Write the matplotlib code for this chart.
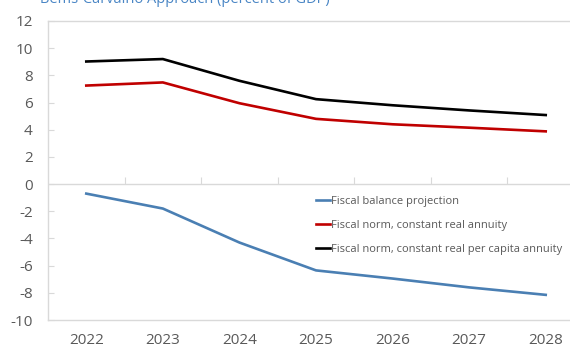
import matplotlib
matplotlib.use("Agg")
import matplotlib.pyplot as plt

years = ["2022", "2023", "2024", "2025", "2026", "2027", "2028"]
fiscal_balance = [-0.7, -1.8, -4.3, -6.35, -6.95, -7.6, -8.15]
norm_real_annuity = [7.25, 7.48, 5.95, 4.8, 4.4, 4.15, 3.88]
norm_per_capita_annuity = [9.02, 9.2, 7.6, 6.25, 5.8, 5.42, 5.08]

series_labels = [
    "Fiscal balance projection",
    "Fiscal norm, constant real annuity",
    "Fiscal norm, constant real per capita annuity",
]
series_colors = ["#4a7fb3", "#c00000", "#000000"]
title = "Bems-Carvalho Approach (percent of GDP)"

plt.rcParams["font.family"] = ["Open Sans", "DejaVu Sans"]
grey = "#d9d9d9"
text_grey = "#595959"

fig = plt.figure(figsize=(5.70, 3.48), dpi=100)
W, H = 570, 348
left, right, top, bottom = 48, 584, 21, 320
ax = fig.add_axes([left / W, 1 - bottom / H, (right - left) / W, (bottom - top) / H])

x = list(range(len(years)))
for vals, lab, col in zip([fiscal_balance, norm_real_annuity, norm_per_capita_annuity],
                          series_labels, series_colors):
    ax.plot(x, vals, color=col, lw=1.9, label=lab, solid_joinstyle="round")

ax.set_xlim(-0.5, len(years) - 0.5)
ax.set_ylim(-10, 12)
ax.set_yticks(range(-10, 13, 2))
ax.set_yticklabels([str(v) for v in range(-10, 13, 2)])
ax.set_xticks(x)
ax.set_xticklabels(years)

for s in ["left", "bottom", "top"]:
    ax.spines[s].set_color(grey)
    ax.spines[s].set_linewidth(1.0)
ax.spines["right"].set_visible(False)

ax.tick_params(axis="y", direction="in", length=4, color=grey, labelcolor=text_grey,
               labelsize=11, pad=11)
ax.tick_params(axis="x", length=0, labelcolor=text_grey, labelsize=11, pad=9)

# zero line with category-boundary ticks
ax.axhline(0, color=grey, lw=1.0, zorder=1)
zero_axis = ax.secondary_xaxis(10 / 22)
zero_axis.set_xticks([i + 0.5 for i in x[:-1]])
zero_axis.tick_params(direction="in", length=5, color=grey, labelbottom=False,
                      labeltop=False)
zero_axis.spines["bottom"].set_visible(False)
zero_axis.spines["top"].set_visible(False)

leg = ax.legend(loc="upper left", bbox_to_anchor=((310 - left) / (right - left),
                                                  1 - (190 - top) / (bottom - top)),
                frameon=False, fontsize=8, handlelength=1.3, handletextpad=0.1,
                labelspacing=1.2, borderpad=0)
for t in leg.get_texts():
    t.set_color(text_grey)

fig.text(40 / W, 1 - 3 / H, title, color="#4a86c5", fontsize=10.5,
         ha="left", va="baseline")

fig.savefig("out.png", dpi=100)
